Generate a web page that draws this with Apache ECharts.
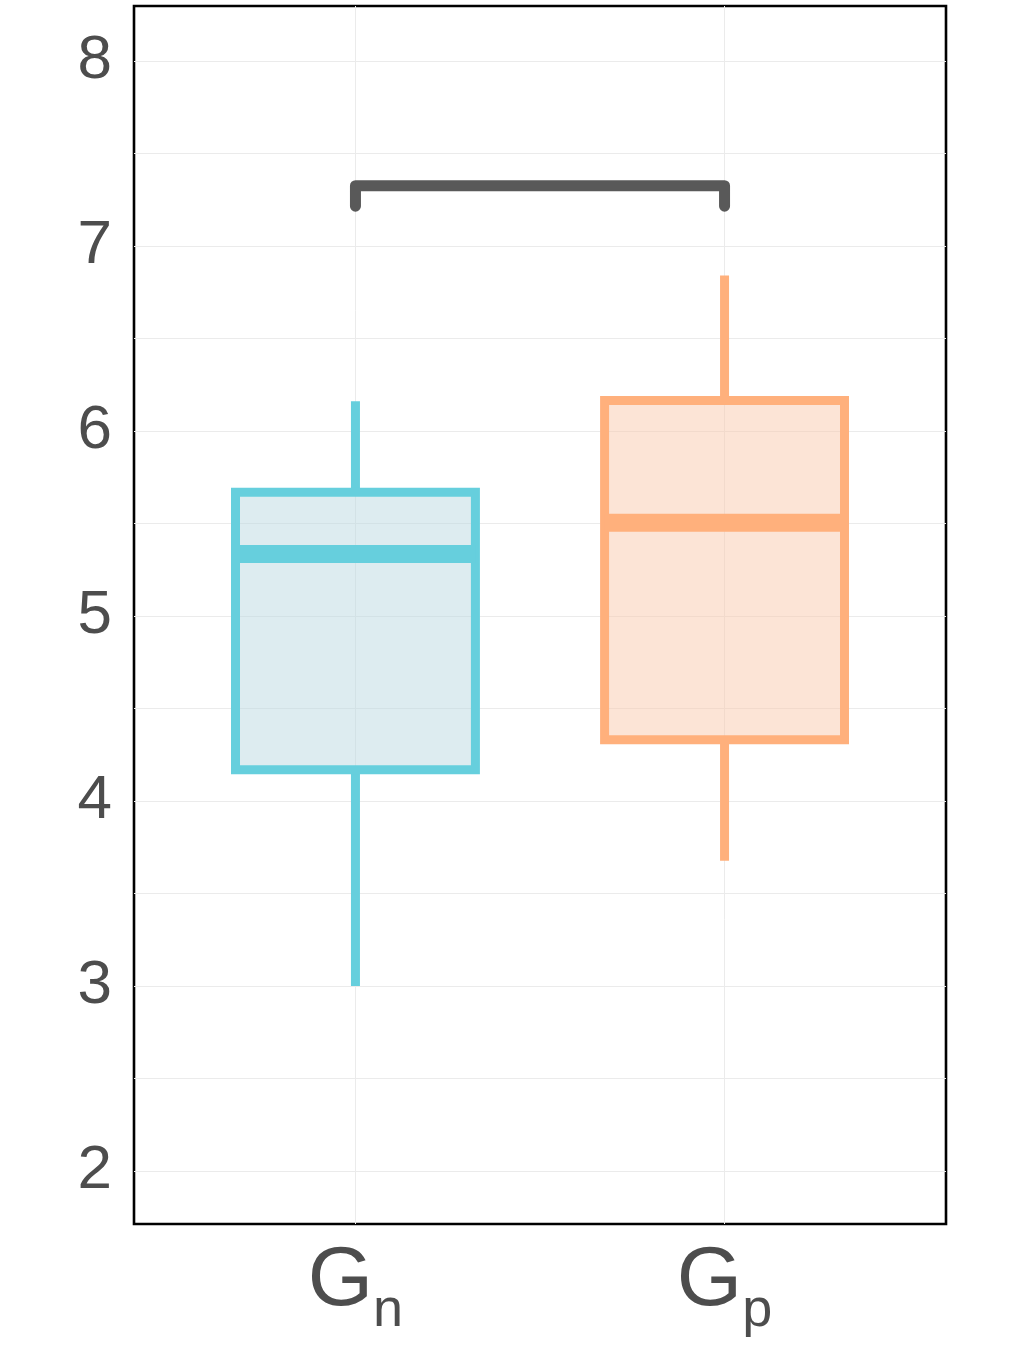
<!DOCTYPE html>
<html><head><meta charset="utf-8">
<script src="https://cdn.jsdelivr.net/npm/echarts@6/dist/echarts.min.js"></script>
<style>html,body{margin:0;padding:0;background:#fff}#c{width:1012px;height:1370px}</style>
</head><body><div id="c"></div>
<script>
// data
const groups = ['n', 'p'];               // G subscripts
const groupX = [1, 2];
const whiskerLow = [3.00, 3.676];
const q1 = [4.168, 4.33];
const median = [5.335, 5.503];
const q3 = [5.668, 6.165];
const whiskerHigh = [6.16, 6.84];
const bracketX = [1, 1, 2, 2];
const bracketY = [7.215, 7.326, 7.326, 7.215];
const yTicks = [2, 3, 4, 5, 6, 7, 8];
const yMinorGrid = [2, 2.5, 3, 3.5, 4, 4.5, 5, 5.5, 6, 6.5, 7, 7.5, 8];
const strokeColors = ['#66CFDD', '#FFB07C'];
const fillColors = ['rgba(187,217,225,0.5)', 'rgba(250,201,173,0.5)'];

const boxData = groupX.map((x, i) => [x, whiskerLow[i], q1[i], median[i], q3[i], whiskerHigh[i], i]);
const halfW = 0.325;

const chart = echarts.init(document.getElementById('c'), null, {renderer: 'canvas'});
chart.setOption({
  animation: false,
  backgroundColor: '#fff',
  grid: {left: 134, right: 66, top: 6, bottom: 146, show: true, borderColor: '#000', borderWidth: 2.6, backgroundColor: 'transparent'},
  xAxis: {
    type: 'value', min: 0.4, max: 2.6,
    axisLine: {show: false}, axisTick: {show: false}, splitLine: {show: false},
    axisLabel: {
      customValues: groupX,
      margin: 16,
      formatter: v => '{g|G}{s|' + groups[Math.round(v) - 1] + '}',
      rich: {
        g: {fontFamily: 'Liberation Sans', fontSize: 84, color: '#4D4D4D', verticalAlign: 'bottom', lineHeight: 84},
        s: {fontFamily: 'Liberation Sans', fontSize: 54, color: '#4D4D4D', verticalAlign: 'bottom', lineHeight: 84, padding: [0, 0, -14, 0]}
      }
    }
  },
  yAxis: {
    type: 'value', min: 1.713, max: 8.297,
    axisLine: {show: false}, axisTick: {show: false}, splitLine: {show: false},
    axisLabel: {
      customValues: yTicks,
      margin: 22,
      fontFamily: 'Liberation Sans', fontSize: 62, color: '#4D4D4D',
      formatter: v => String(v)
    }
  },
  series: [
    {
      type: 'line', data: [], z: 1, silent: true,
      markLine: {
        silent: true, symbol: 'none', animation: false, z: 1,
        label: {show: false},
        lineStyle: {color: '#EBEBEB', width: 1, type: 'solid'},
        data: yMinorGrid.map(v => ({yAxis: v})).concat(groupX.map(v => ({xAxis: v})))
      }
    },
    {
      type: 'custom', z: 3, silent: true,
      data: boxData,
      renderItem: (params, api) => {
        const x = api.value(0), lo = api.value(1), a = api.value(2), m = api.value(3), b = api.value(4), hi = api.value(5);
        const i = api.value(6);
        const pL = api.coord([x - halfW, b]), pR = api.coord([x + halfW, a]);
        const pLo = api.coord([x, lo]), pHi = api.coord([x, hi]);
        const pA = api.coord([x, a]), pB = api.coord([x, b]);
        const mL = api.coord([x - halfW, m]), mR = api.coord([x + halfW, m]);
        const stroke = strokeColors[i];
        return {
          type: 'group',
          children: [
            {type: 'line', shape: {x1: pHi[0], y1: pHi[1], x2: pB[0], y2: pB[1]}, style: {stroke, lineWidth: 9}},
            {type: 'line', shape: {x1: pA[0], y1: pA[1], x2: pLo[0], y2: pLo[1]}, style: {stroke, lineWidth: 9}},
            {type: 'rect', shape: {x: pL[0], y: pL[1], width: pR[0] - pL[0], height: pR[1] - pL[1]},
             style: {fill: fillColors[i], stroke, lineWidth: 9}},
            {type: 'line', shape: {x1: mL[0], y1: mL[1], x2: mR[0], y2: mR[1]}, style: {stroke, lineWidth: 18}}
          ]
        };
      }
    },
    {
      type: 'line', z: 4, silent: true, symbol: 'none',
      data: bracketX.map((x, i) => [x, bracketY[i]]),
      lineStyle: {color: '#595959', width: 11, cap: 'round', join: 'round'}
    }
  ]
});
</script></body></html>
